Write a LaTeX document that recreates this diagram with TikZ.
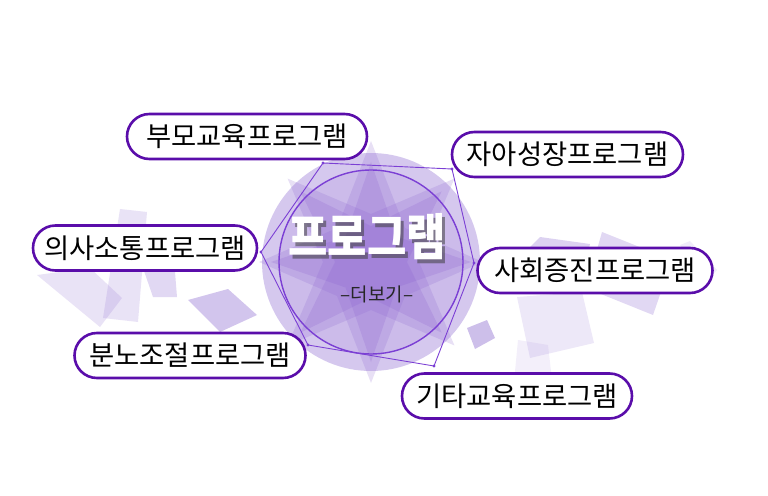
\documentclass[tikz,border=0pt]{standalone}
\usepackage{fontspec}
\newfontfamily\kr{Noto Sans CJK KR}
\definecolor{pillc}{HTML}{5A0DAA}
\definecolor{deco}{HTML}{9C7FD6}
\definecolor{starc}{HTML}{8A62CF}
\definecolor{ringc}{HTML}{7B3FD4}
\definecolor{discc}{HTML}{B9A3E3}
\newcommand{\ttltext}{\scalebox{0.86}[1]{프로그램}}
\begin{document}
\begin{tikzpicture}[x=1bp,y=-1bp,
  decobox/.style={fill=deco, fill opacity=#1, draw=none},
  decobox/.default=0.25,
  pill/.style={draw=pillc, line width=2.6bp, fill=white, rounded corners=22.5bp,
    minimum height=45bp, inner sep=0pt, text=black,
    font=\kr\fontsize{27.5}{31}\selectfont},
  vdot/.style={fill=ringc},
  titlefont/.style={font=\kr\bfseries\fontsize{50}{54}\selectfont},
]
\useasboundingbox (0,0) rectangle (768,496);

% background decorative quads
\fill[decobox=0.22] (37,275) -- (90,268) -- (122,298) -- (100,327) -- cycle;
\fill[decobox=0.22] (120,209) -- (147,212) -- (138,322) -- (103,318) -- cycle;
\fill[decobox=0.30] (143,268) -- (175,272) -- (177,297) -- (153,297) -- cycle;
\fill[decobox=0.45] (188,300) -- (228,289) -- (257,315) -- (220,332) -- cycle;
\fill[decobox=0.35] (528,249) -- (540,237) -- (590,244) -- (588,252) -- cycle;
\fill[decobox=0.18] (517,297) -- (582,292) -- (594,343) -- (530,358) -- cycle;
\fill[decobox=0.30] (602,232) -- (672,260) -- (653,315) -- (586,288) -- cycle;
\fill[decobox=0.15] (680,245) -- (690,241) -- (717,270) -- (705,282) -- cycle;
\fill[decobox=0.50] (467,328) -- (487,320) -- (495,338) -- (475,349) -- cycle;
\fill[decobox=0.12] (518,340) -- (548,345) -- (552,380) -- (514,382) -- cycle;

% central emblem
\coordinate (C) at (371,262);
\fill[discc, fill opacity=0.6] (C) circle (109);
\fill[starc, fill opacity=0.2] (C) +(0:112) -- +(45:48) -- +(90:121) -- +(135:48)
   -- +(180:112) -- +(225:48) -- +(270:121) -- +(315:48) -- cycle;
\fill[starc, fill opacity=0.2] (C) +(45:118) -- +(90:48) -- +(135:118) -- +(180:48)
   -- +(225:118) -- +(270:48) -- +(315:118) -- +(0:48) -- cycle;
\fill[starc, fill opacity=0.22] (C) +(0:100) -- +(45:36) -- +(90:100) -- +(135:36)
   -- +(180:100) -- +(225:36) -- +(270:100) -- +(315:36) -- cycle;
\fill[starc, fill opacity=0.22] (C) +(45:100) -- +(90:36) -- +(135:100) -- +(180:36)
   -- +(225:100) -- +(270:36) -- +(315:100) -- +(0:36) -- cycle;
\fill[starc, fill opacity=0.12] (C) circle (92);
\draw[ringc, line width=1.4bp] (C) circle (92);

% label boxes
\node[pill, minimum width=240bp] (b1) at (247,136.5) {부모교육프로그램};
\node[pill, minimum width=231bp] (b2) at (567.5,154.5) {자아성장프로그램};
\node[pill, minimum width=224bp] (b3) at (145,248) {의사소통프로그램};
\node[pill, minimum width=235bp] (b4) at (595,270.5) {사회증진프로그램};
\node[pill, minimum width=231bp] (b5) at (190,355.5) {분노조절프로그램};
\node[pill, minimum width=230bp] (b6) at (517,396) {기타교육프로그램};

% hexagon joining the boxes
\coordinate (v1) at (323,163);
\coordinate (v2) at (452,169);
\coordinate (v4) at (474,263);
\coordinate (v6) at (434,366);
\coordinate (v5) at (308,345);
\coordinate (v3) at (261,252);
\draw[ringc, line width=0.9bp] (v1) -- (v2) -- (v4) -- (v6) -- (v5) -- (v3) -- cycle;
\foreach \v in {v1,v2,v3,v4,v5,v6} \fill[vdot] (\v) circle (1.7);

% title with shadow
\node[titlefont, text=black!75, text opacity=0.55] (titleshadow) at (370,240.5) {\ttltext};
\node[titlefont, text=white] (title) at (367,237) {\ttltext};
\node[font=\kr\fontsize{19}{22}\selectfont, text=black!85] (more) at (377,294) {–더보기–};
\end{tikzpicture}
\end{document}
